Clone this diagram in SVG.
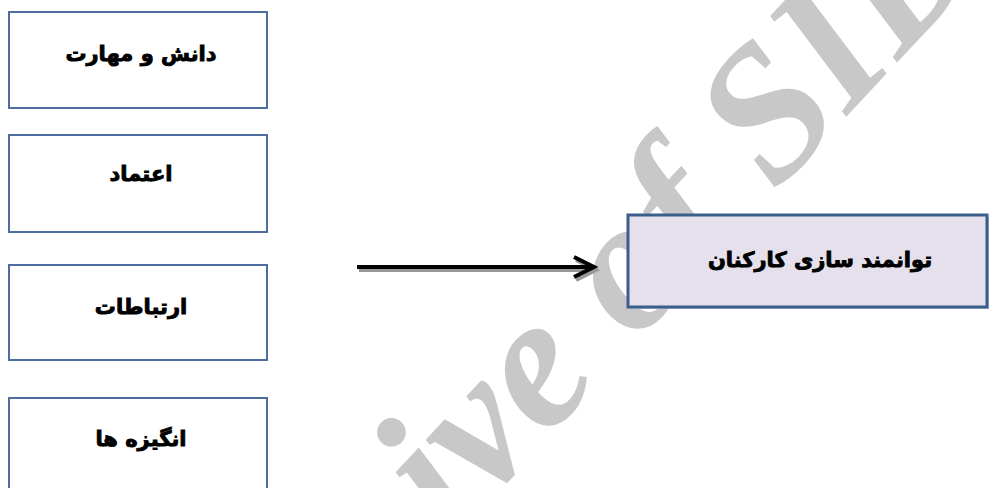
<svg xmlns="http://www.w3.org/2000/svg" width="990" height="488" viewBox="0 0 990 488">
<style>
.box{fill:#ffffff;stroke:#4d6e9e;stroke-width:2}
.main{fill:#e5e0ec;stroke:#3b5e8c;stroke-width:3}
.lbl{font-family:"DejaVu Sans",sans-serif;font-weight:bold;font-size:21px;fill:#000;stroke:#000;stroke-width:0.9;text-anchor:middle;direction:rtl}
.wm{font-family:"Liberation Serif",serif;font-weight:bold;font-style:italic;font-size:190px;fill:#c8c8c8}
</style>
<rect width="990" height="488" fill="#ffffff"/>
<g id="watermark">
<text class="wm" transform="translate(766,112) rotate(-47)" x="-918" y="62">Archive of SID</text>
</g>
<g id="n1"><rect class="box" x="9" y="12" width="258" height="96"/><text class="lbl" x="141" y="61">دانش و مهارت</text></g>
<g id="n2"><rect class="box" x="9" y="135" width="258" height="97"/><text class="lbl" x="141" y="181">اعتماد</text></g>
<g id="n3"><rect class="box" x="9" y="265" width="258" height="95"/><text class="lbl" x="141" y="314">ارتباطات</text></g>
<g id="n4"><rect class="box" x="9" y="398" width="258" height="100"/><text class="lbl" x="141" y="446">انگیزه ها</text></g>
<g id="main"><rect x="630" y="217" width="359" height="92" fill="#b8c4dc"/><rect class="main" x="628" y="215" width="359" height="92"/><text class="lbl" x="820" y="267">توانمند سازی کارکنان</text></g>
<g id="connectors">
<g fill="none" stroke="#999999" stroke-width="4" transform="translate(2,3)"><line x1="357" y1="267" x2="592" y2="267"/><polyline points="574,257 594,267 574,277"/></g>
<g fill="none" stroke="#000000" stroke-width="4"><line x1="357" y1="267" x2="592" y2="267"/><polyline points="574,257 594,267 574,277"/></g>
</g>
</svg>
